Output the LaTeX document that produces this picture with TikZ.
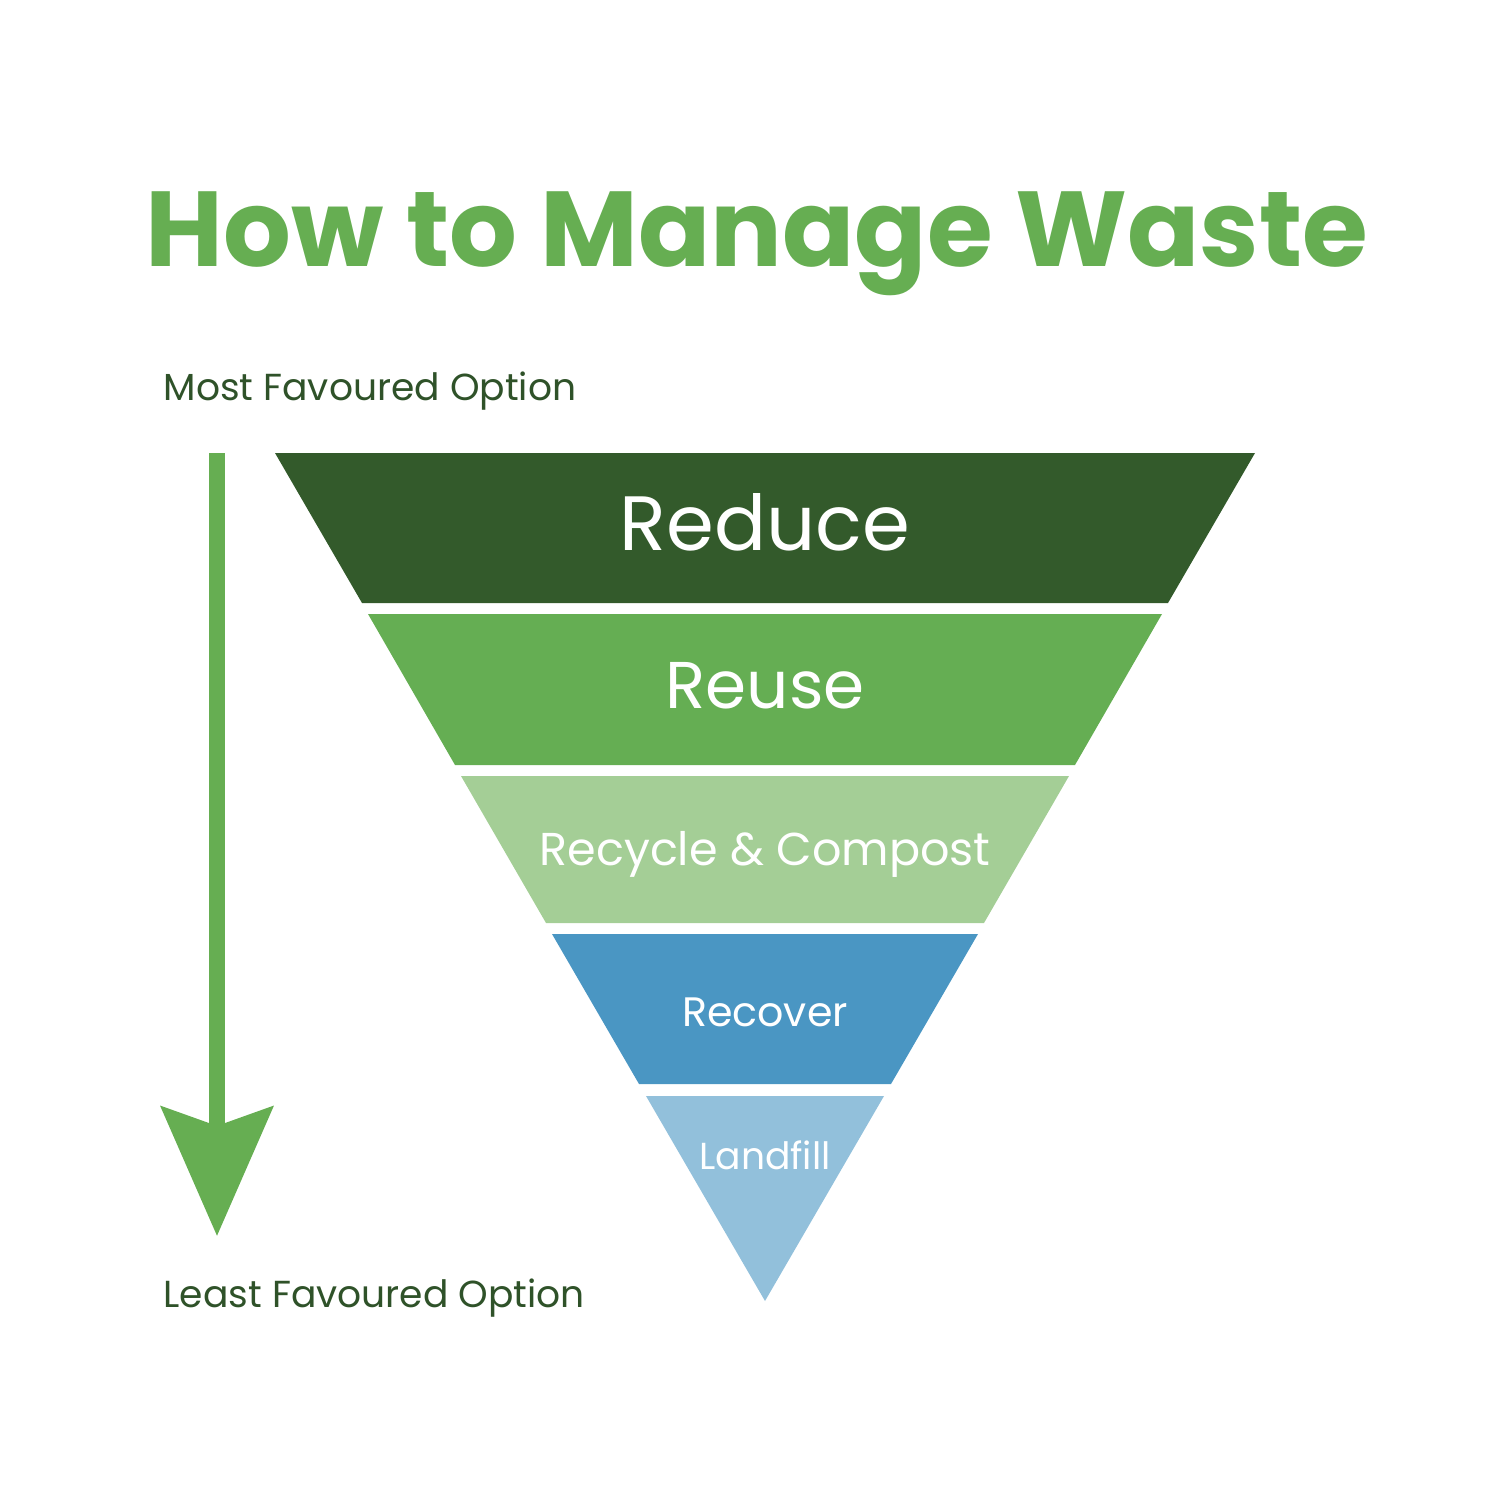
\documentclass[tikz,border=0pt]{standalone}
\usepackage{fontspec}
\setmainfont{Poppins}
\usetikzlibrary{arrows.meta}
\definecolor{titlegreen}{HTML}{66AE52}
\definecolor{labelgreen}{HTML}{2F5229}
\definecolor{cReduce}{HTML}{335A2B}
\definecolor{cReuse}{HTML}{65AE53}
\definecolor{cRecycle}{HTML}{A4CE96}
\definecolor{cRecover}{HTML}{4A96C3}
\definecolor{cLandfill}{HTML}{92C0DB}
\tikzset{
  band/.style={draw=none},
  bandtext/.style={text=white, inner sep=0pt, anchor=base},
  sidelabel/.style={text=labelgreen, inner sep=0pt, anchor=base west, font=\fontsize{10.7pt}{13pt}\selectfont},
}
\begin{document}
\begin{tikzpicture}[x=0.01cm, y=-0.01cm]
\useasboundingbox (0,0) rectangle (1500,1500);
% title
\node[text=titlegreen, inner sep=0pt, anchor=base, font=\fontsize{30.3pt}{36pt}\selectfont\bfseries] (title) at (757,266) {How to Manage Waste};
% bands
\fill[cReduce]   (275,453) -- (1255,453) -- (1168,603) -- (362,603) -- cycle;
\fill[cReuse]    (368,614) -- (1162,614) -- (1075,765) -- (455,765) -- cycle;
\fill[cRecycle]  (461,776) -- (1069,776) -- (984,923) -- (546,923) -- cycle;
\fill[cRecover]  (552,934) -- (978,934) -- (891,1084) -- (639,1084) -- cycle;
\fill[cLandfill] (646,1096) -- (884,1096) -- (765,1301) -- cycle;
% band labels
\node[bandtext, font=\fontsize{21.9pt}{26pt}\selectfont] (reduce) at (765,550) {Reduce};
\node[bandtext, font=\fontsize{18.8pt}{23pt}\selectfont] (reuse) at (765,708) {Reuse};
\node[bandtext, font=\fontsize{13.1pt}{16pt}\selectfont] (recycle) at (765,865) {Recycle \& Compost};
\node[bandtext, font=\fontsize{11.7pt}{14pt}\selectfont] (recover) at (765,1026) {Recover};
\node[bandtext, font=\fontsize{10.7pt}{13pt}\selectfont] (landfill) at (765,1169) {Landfill};
% side labels
\node[sidelabel] (most) at (163,400) {Most Favoured Option};
\node[sidelabel] (least) at (163,1307) {Least Favoured Option};
% arrow
\coordinate (astart) at (217,453);
\coordinate (aend) at (217,1236);
\draw[titlegreen, line width=4.27pt, -{Stealth[length=36.7pt, width=31.6pt, inset=5.4pt]}] (astart) -- (aend);
\end{tikzpicture}
\end{document}
